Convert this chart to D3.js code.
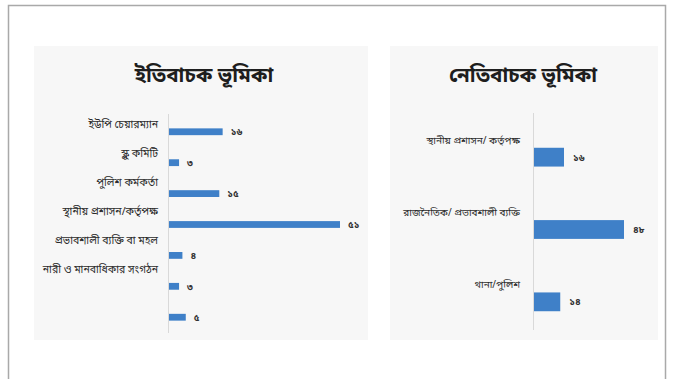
<!DOCTYPE html>
<html>
<head>
<meta charset="utf-8">
<script src="https://cdn.jsdelivr.net/npm/d3@7/dist/d3.min.js"></script>
<style>
  html, body { margin: 0; padding: 0; background: #ffffff; }
  svg { display: block; font-family: "Noto Sans Bengali", "Noto Serif Bengali", "Lohit Bengali", "Noto Sans", sans-serif; }
</style>
</head>
<body>
<svg id="chart" width="676" height="379"></svg>
<script>
// Positive roles
const posCategories = [
  "ইউপি চেয়ারম্যান",
  "স্কুল কমিটি",
  "পুলিশ কর্মকর্তা",
  "স্থানীয় প্রশাসন/কর্তৃপক্ষ",
  "প্রভাবশালী ব্যক্তি বা মহল",
  "নারী ও মানবাধিকার সংগঠন",
  ""
];
const posValues = [16, 3, 15, 51, 4, 3, 5];
const posTitle = "ইতিবাচক ভূমিকা";

// Negative roles
const negCategories = [
  "স্থানীয় প্রশাসন/ কর্তৃপক্ষ",
  "রাজনৈতিক/ প্রভাবশালী ব্যক্তি",
  "থানা/পুলিশ"
];
const negValues = [16, 48, 14];
const negTitle = "নেতিবাচক ভূমিকা";

const bnDigits = ["০","১","২","৩","৪","৫","৬","৭","৮","৯"];
const toBn = n => String(n).replace(/\d/g, d => bnDigits[+d]);

const svg = d3.select("#chart");
const barColor = "#3f80c8";

// outer frame
svg.append("rect")
  .attr("x", 8.5).attr("y", 5.5)
  .attr("width", 657).attr("height", 380)
  .attr("fill", "#ffffff")
  .attr("stroke", "#a9a9a9").attr("stroke-width", 1.5);

function panel(opt) {
  const g = svg.append("g");
  g.append("rect")
    .attr("x", opt.px).attr("y", opt.py)
    .attr("width", opt.pw).attr("height", opt.ph)
    .attr("fill", "#f7f7f7");

  g.append("text")
    .attr("x", opt.px + opt.pw / 2 + opt.titleDx)
    .attr("y", 82)
    .attr("text-anchor", "middle")
    .attr("font-size", 20.5)
    .attr("font-weight", "bold")
    .attr("fill", "#1e1e1e")
    .text(opt.title);

  const x = d3.scaleLinear().domain([0, opt.xMax]).range([opt.x0, opt.x1]);
  const yBar = d3.scaleBand().domain(d3.range(opt.values.length))
    .range(opt.barRange).paddingInner(opt.padIn).paddingOuter(opt.padOut);
  const yLab = d3.scalePoint().domain(d3.range(opt.labels.length))
    .range(opt.labelRange);

  // category axis line
  g.append("line")
    .attr("x1", x(0) - 0.5).attr("x2", x(0) - 0.5)
    .attr("y1", opt.axisY[0]).attr("y2", opt.axisY[1])
    .attr("stroke", "#d9d9d9").attr("stroke-width", 1);

  g.selectAll("rect.bar").data(opt.values).join("rect")
    .attr("class", "bar")
    .attr("x", x(0))
    .attr("y", (d, i) => yBar(i))
    .attr("width", d => x(d) - x(0))
    .attr("height", yBar.bandwidth())
    .attr("fill", barColor);

  g.selectAll("text.val").data(opt.values).join("text")
    .attr("class", "val")
    .attr("x", d => x(d) + opt.valDx)
    .attr("y", (d, i) => yBar(i) + yBar.bandwidth() / 2 + 3.5)
    .attr("font-size", opt.valSize)
    .attr("font-weight", "bold")
    .attr("fill", "#333")
    .text(d => toBn(d));

  g.selectAll("text.cat").data(opt.labels).join("text")
    .attr("class", "cat")
    .attr("x", opt.labelX)
    .attr("y", (d, i) => yLab(i))
    .attr("text-anchor", "end")
    .attr("font-size", opt.labSize)
    .attr("fill", "#2a2a2a")
    .text(d => d);
}

panel({
  px: 34, py: 46, pw: 334, ph: 294,
  title: posTitle, titleDx: 3,
  values: posValues, labels: posCategories.slice(0, 6),
  xMax: 51, x0: 169, x1: 340,
  barRange: [116, 333], padIn: 0.78, padOut: 0.4,
  labelRange: [128, 273], labelX: 158,
  axisY: [114, 333], valDx: 8, valSize: 9.5, labSize: 10.5
});

panel({
  px: 390, py: 46, pw: 268, ph: 294,
  title: negTitle, titleDx: -1,
  values: negValues, labels: negCategories,
  xMax: 48, x0: 534, x1: 624,
  barRange: [121, 338], padIn: 0.74, padOut: 0.37,
  labelRange: [144, 288], labelX: 520,
  axisY: [113, 330], valDx: 9, valSize: 9.5, labSize: 10
});
</script>
</body>
</html>
